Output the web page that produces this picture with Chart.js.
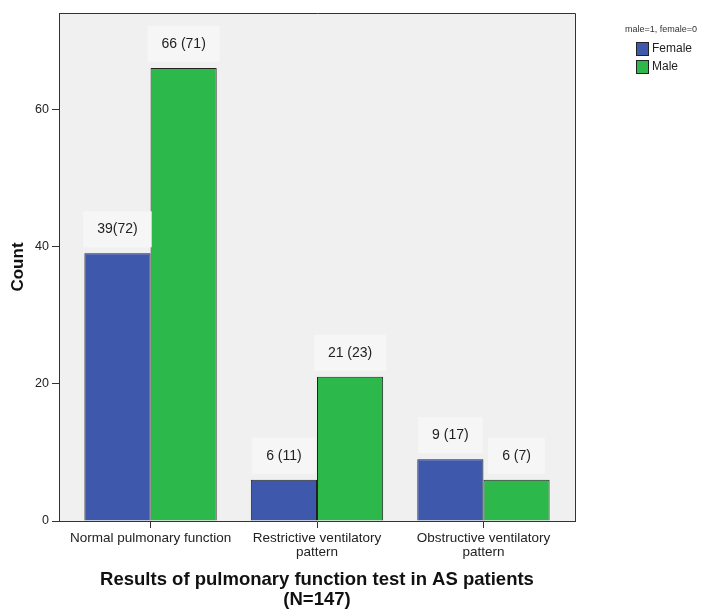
<!DOCTYPE html>
<html>
<head>
<meta charset="utf-8">
<script src="https://cdn.jsdelivr.net/npm/chart.js@4"></script>
<style>
  body { margin: 0; background: #fff; }
  #wrap { width: 705px; height: 610px; }
</style>
</head>
<body>
<div id="wrap"><canvas id="chart" width="705" height="610"></canvas></div>
<script>
const categories = [
    'Normal pulmonary function',
    ['Restrictive ventilatory', 'pattern'],
    ['Obstructive ventilatory', 'pattern']
];
const femaleCounts = [39, 6, 9];
const maleCounts = [66, 21, 6];
const femaleLabels = ['39(72)', '6 (11)', '9 (17)'];
const maleLabels = ['66 (71)', '21 (23)', '6 (7)'];
const yTicks = [0, 20, 40, 60];

const FONT = "'Liberation Sans', Arial, sans-serif";

const toPoints = (arr) => arr.map((v, i) => ({ x: i, y: v }));

// plot background + top/right frame
const framePlugin = {
    id: 'frame',
    beforeDraw: (chart) => {
        const a = chart.chartArea;
        const ctx = chart.ctx;
        ctx.save();
        ctx.fillStyle = '#f0f0f0';
        ctx.fillRect(a.left, a.top, a.right - a.left, a.bottom - a.top);
        ctx.restore();
    },
    afterDraw: (chart) => {
        const a = chart.chartArea;
        const ctx = chart.ctx;
        ctx.save();
        ctx.strokeStyle = '#333';
        ctx.lineWidth = 1;
        ctx.beginPath();
        ctx.moveTo(a.left, a.top + 0.5);
        ctx.lineTo(a.right + 0.5, a.top + 0.5);
        ctx.lineTo(a.right + 0.5, a.bottom);
        ctx.stroke();
        ctx.restore();
    }
};

// boxed value labels above bars
const valueLabels = {
    id: 'valueLabels',
    afterDatasetsDraw: (chart) => {
        const ctx = chart.ctx;
        const texts = [femaleLabels, maleLabels];
        ctx.save();
        ctx.font = '14px ' + FONT;
        ctx.textAlign = 'center';
        ctx.textBaseline = 'middle';
        chart.data.datasets.forEach((ds, di) => {
            chart.getDatasetMeta(di).data.forEach((bar, i) => {
                const t = texts[di][i];
                const w = ctx.measureText(t).width + 28;
                const y = bar.y - 24;
                ctx.fillStyle = '#f6f6f6';
                ctx.fillRect(bar.x - w / 2, y - 18, w, 36);
                ctx.fillStyle = '#222';
                ctx.fillText(t, bar.x, y);
            });
        });
        ctx.restore();
    }
};

// legend in the top right corner
const sideLegend = {
    id: 'sideLegend',
    afterDraw: (chart) => {
        const ctx = chart.ctx;
        ctx.save();
        ctx.fillStyle = '#333';
        ctx.font = '9px ' + FONT;
        ctx.textBaseline = 'middle';
        ctx.textAlign = 'left';
        ctx.fillText('male=1, female=0', 625, 30);
        ctx.font = '12px ' + FONT;
        chart.data.datasets.forEach((ds, i) => {
            const y = 42 + i * 18;
            ctx.fillStyle = ds.backgroundColor;
            ctx.fillRect(636, y, 12, 13);
            ctx.strokeStyle = '#222';
            ctx.strokeRect(636.5, y + 0.5, 12, 13);
            ctx.fillStyle = '#222';
            ctx.fillText(ds.label, 652, y + 7);
        });
        ctx.restore();
    }
};

const config = {
    type: 'bar',
    data: {
        datasets: [{
            label: 'Female',
            data: toPoints(femaleCounts),
            backgroundColor: '#3e58ac',
            borderColor: '#222',
            borderWidth: 1,
            categoryPercentage: 0.795,
            barPercentage: 1
        }, {
            label: 'Male',
            data: toPoints(maleCounts),
            backgroundColor: '#2db84b',
            borderColor: '#222',
            borderWidth: 1,
            categoryPercentage: 0.795,
            barPercentage: 1
        }]
    },
    options: {
        responsive: false,
        animation: false,
        layout: { padding: { top: 13, right: 130, left: 0, bottom: 0 } },
        plugins: {
            legend: { display: false },
            tooltip: { enabled: false }
        },
        scales: {
            x: {
                type: 'linear',
                offset: false,
                min: -0.55,
                max: 2.55,
                afterBuildTicks: (scale) => {
                    scale.ticks = categories.map((c, i) => ({ value: i }));
                },
                afterFit: (scale) => { scale.height = 89; },
                ticks: {
                    callback: (v) => categories[v],
                    color: '#222',
                    font: { family: FONT, size: 13.5, lineHeight: 1.05 },
                    maxRotation: 0,
                    autoSkip: false,
                    padding: 3
                },
                grid: { offset: false, drawOnChartArea: false, tickLength: 7, color: '#333' },
                border: { color: '#333' },
                title: {
                    display: true,
                    text: ['Results of pulmonary function test in AS patients', '(N=147)'],
                    color: '#111',
                    font: { family: FONT, size: 18.5, weight: 'bold', lineHeight: 1.1 },
                    padding: { top: 0, bottom: 0 }
                }
            },
            y: {
                min: 0,
                max: 74,
                afterBuildTicks: (scale) => {
                    scale.ticks = yTicks.map(v => ({ value: v }));
                },
                afterFit: (scale) => { scale.width = 59; },
                ticks: {
                    color: '#222',
                    font: { family: FONT, size: 12.5 },
                    padding: 3
                },
                grid: { drawOnChartArea: false, tickLength: 7, color: '#333' },
                border: { color: '#333' },
                title: {
                    display: true,
                    text: 'Count',
                    color: '#111',
                    font: { family: FONT, size: 17, weight: 'bold' },
                    padding: { top: 8, bottom: 0 }
                }
            }
        }
    },
    plugins: [framePlugin, valueLabels, sideLegend]
};

new Chart(document.getElementById('chart'), config);
</script>
</body>
</html>
